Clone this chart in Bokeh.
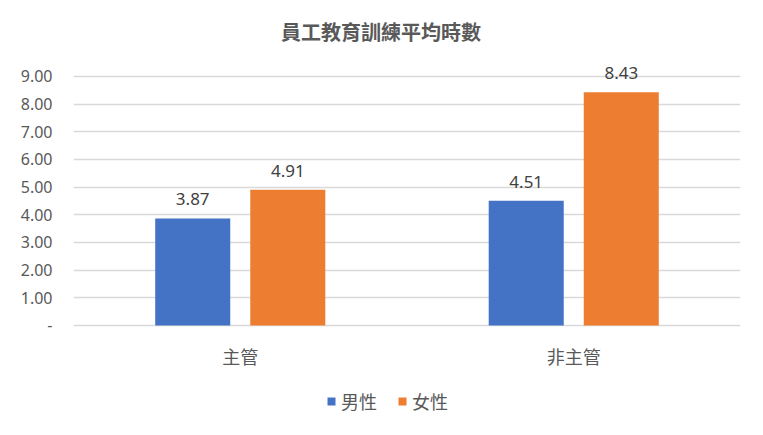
from bokeh.plotting import figure
from bokeh.models import (ColumnDataSource, FactorRange, Range1d, FixedTicker,
                          NumeralTickFormatter, Legend, LegendItem, Label)
from bokeh.transform import dodge
from bokeh.core.properties import value
from bokeh.embed import file_html
from bokeh.resources import INLINE

# ---- data ----
title_text = "員工教育訓練平均時數"
categories = ["主管", "非主管"]
series_names = ["男性", "女性"]
male = [3.87, 4.51]
female = [4.91, 8.43]
y_ticks = [0, 1, 2, 3, 4, 5, 6, 7, 8, 9]
colors = ["#4472C4", "#ED7D31"]

src = ColumnDataSource(dict(
    cat=categories,
    male=male,
    female=female,
    male_lbl=[f"{v:.2f}" for v in male],
    female_lbl=[f"{v:.2f}" for v in female],
))

# frame spans the full height; the value axis 0..9 sits at 325..76 px
p = figure(x_range=FactorRange(*categories, range_padding=0),
           y_range=Range1d(-3.398, 11.747),
           width=747, height=419,
           output_backend="svg", toolbar_location=None,
           min_border_left=73, min_border_right=7,
           min_border_top=0, min_border_bottom=0)

p.outline_line_color = None
p.background_fill_color = "white"
p.border_fill_color = "white"

off = 0.1425
bw = 0.225
r1 = p.vbar(x=dodge("cat", -off, range=p.x_range), top="male", width=bw,
            source=src, fill_color=colors[0], line_color=None)
r2 = p.vbar(x=dodge("cat", off, range=p.x_range), top="female", width=bw,
            source=src, fill_color=colors[1], line_color=None)

for col, lbl, o in (("male", "male_lbl", -off), ("female", "female_lbl", off)):
    p.text(x=dodge("cat", o, range=p.x_range), y=col, text=lbl, source=src,
           text_align="center", text_baseline="middle", y_offset=-19,
           text_font=value("Noto Sans"), text_font_size="17px",
           text_color="#404040")

# axes
p.yaxis.ticker = FixedTicker(ticks=y_ticks)
p.yaxis.formatter = NumeralTickFormatter(format="0.00")
p.yaxis.major_label_overrides = {0: "-"}
p.yaxis.axis_line_color = None
p.yaxis.major_tick_line_color = None
p.yaxis.minor_tick_line_color = None
p.yaxis.major_label_standoff = 15
p.yaxis.major_label_text_font = "Noto Sans"
p.yaxis.major_label_text_font_size = "16px"
p.yaxis.major_label_text_color = "#595959"

p.xaxis.fixed_location = 0
p.xaxis.axis_line_color = None
p.xaxis.major_tick_line_color = None
p.xaxis.minor_tick_line_color = None
p.xaxis.major_label_standoff = 12
p.xaxis.major_label_text_font = "Noto Sans CJK TC"
p.xaxis.major_label_text_font_size = "18px"
p.xaxis.major_label_text_color = "#595959"

p.xgrid.grid_line_color = None
p.ygrid.ticker = FixedTicker(ticks=y_ticks)
p.ygrid.grid_line_color = "#d9d9d9"
p.ygrid.grid_line_width = 1.5

# title
p.add_layout(Label(x=1, y=10.63, x_offset=-26, text=title_text,
                   text_align="center", text_baseline="middle",
                   text_font="Noto Sans CJK TC", text_font_size="20px",
                   text_font_style="bold", text_color="#595959"))

# legend
legend = Legend(items=[LegendItem(label=series_names[0], renderers=[r1]),
                       LegendItem(label=series_names[1], renderers=[r2])],
                orientation="horizontal", location=(253, 5),
                border_line_color=None, background_fill_alpha=0,
                glyph_width=10, glyph_height=10, label_standoff=5, spacing=20,
                label_text_font="Noto Sans CJK TC", label_text_font_size="18px",
                label_text_color="#595959", margin=0, padding=0)
p.add_layout(legend)

open("out.html", "w").write(file_html(p, INLINE))
